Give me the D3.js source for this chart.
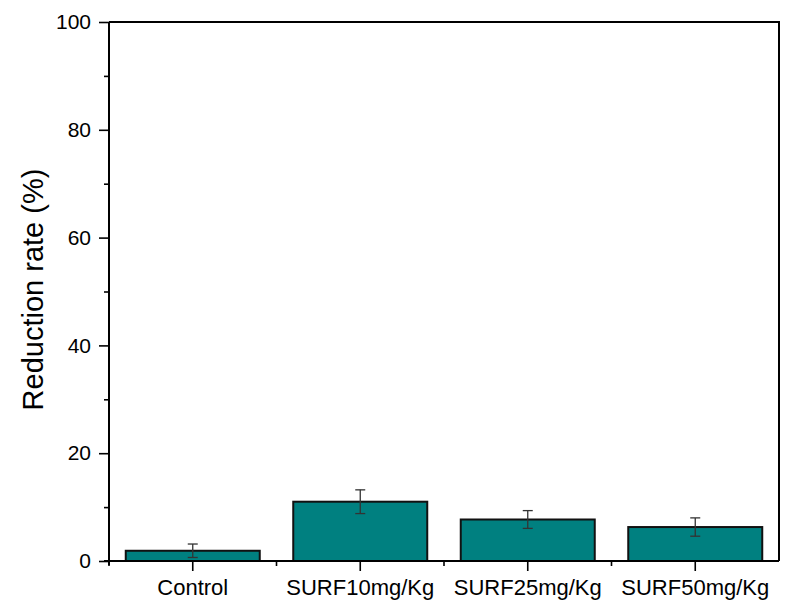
<!DOCTYPE html>
<html>
<head>
<meta charset="utf-8">
<script src="https://cdn.jsdelivr.net/npm/d3@7"></script>
<style>
  html, body { margin: 0; padding: 0; background: #fff; }
  svg { display: block; font-family: "Liberation Sans", Arial, sans-serif; }
</style>
</head>
<body>
<svg id="chart" width="789" height="605"></svg>
<script>
// Reduction rate per treatment group (mean ± error)
const categories = ["Control", "SURF10mg/Kg", "SURF25mg/Kg", "SURF50mg/Kg"];
const values = [1.9, 11.0, 7.7, 6.3];
const errors = [1.25, 2.2, 1.65, 1.7];
const yTicks = [0, 20, 40, 60, 80, 100];
const yMinorTicks = [10, 30, 50, 70, 90];
const yLabel = "Reduction rate (%)";

const svg = d3.select("#chart");
const margin = { left: 109, right: 10, top: 22, bottom: 44 };
const W = 789, H = 605;
const x0 = margin.left, x1 = W - margin.right;
const y0 = H - margin.bottom, y1 = margin.top;

const x = d3.scaleBand().domain(categories).range([x0, x1]).paddingInner(0.2).paddingOuter(0.1);
const xPos = d3.scaleBand().domain(categories).range([x0, x1]).padding(0);
const y = d3.scaleLinear().domain([0, 100]).range([y0, y1]);

const data = categories.map((c, i) => ({ c, v: values[i], e: errors[i] }));

// Bars
svg.append("g").selectAll("rect").data(data).join("rect")
  .attr("x", d => x(d.c))
  .attr("y", d => y(d.v))
  .attr("width", x.bandwidth())
  .attr("height", d => y(0) - y(d.v))
  .attr("fill", "#008080")
  .attr("stroke", "#111")
  .attr("stroke-width", 2);

// Error bars
const eb = svg.append("g").attr("stroke", "#333").attr("stroke-width", 1.3).attr("fill", "none");
data.forEach(d => {
  const cx = xPos(d.c) + xPos.bandwidth() / 2;
  eb.append("line").attr("x1", cx).attr("x2", cx).attr("y1", y(d.v + d.e)).attr("y2", y(d.v - d.e));
  [d.v + d.e, d.v - d.e].forEach(v => {
    eb.append("line").attr("x1", cx - 5).attr("x2", cx + 5).attr("y1", y(v)).attr("y2", y(v));
  });
});

// Frame: top and right edges
svg.append("path")
  .attr("d", `M${x0},${y1}H${x1}V${y0}`)
  .attr("fill", "none").attr("stroke", "#000").attr("stroke-width", 2);

// Y axis
const yAxis = svg.append("g").attr("transform", `translate(${x0},0)`)
  .call(d3.axisLeft(y).tickValues(yTicks).tickSize(10).tickPadding(8).tickFormat(d3.format("d")));
yAxis.call(g => g.select(".domain").attr("stroke-width", 2).attr("d", `M0,${y0 + 4}V${y1}`));
yAxis.selectAll(".tick line").attr("stroke-width", 1.6);
yAxis.selectAll(".tick text").attr("font-size", 21).attr("fill", "#000")
  .attr("font-family", "Liberation Sans, Arial, sans-serif");
svg.append("g").attr("transform", `translate(${x0},0)`)
  .call(d3.axisLeft(y).tickValues(yMinorTicks).tickSize(5).tickFormat(""))
  .call(g => g.select(".domain").remove())
  .selectAll(".tick line").attr("stroke-width", 1.6);

// X axis
const xAxis = svg.append("g").attr("transform", `translate(0,${y0})`)
  .call(d3.axisBottom(xPos).tickSize(10).tickPadding(8));
xAxis.call(g => g.select(".domain").attr("stroke-width", 2).attr("d", `M${x0 - 5},0H${x1}`));
xAxis.selectAll(".tick line").attr("stroke-width", 1.6);
xAxis.selectAll(".tick text").attr("font-size", 22).attr("fill", "#000")
  .attr("font-family", "Liberation Sans, Arial, sans-serif");
// Minor ticks on the category boundaries
const bounds = categories.map(c => xPos(c));
svg.append("g").selectAll("line").data(bounds).join("line")
  .attr("x1", d => d).attr("x2", d => d)
  .attr("y1", y0).attr("y2", y0 + 5)
  .attr("stroke", "#000").attr("stroke-width", 1.6);

// Y axis title
svg.append("text")
  .attr("transform", `translate(43,${(y0 + y1) / 2 - 2}) rotate(-90)`)
  .attr("text-anchor", "middle")
  .attr("font-size", 29)
  .attr("fill", "#000")
  .text(yLabel);
</script>
</body>
</html>
